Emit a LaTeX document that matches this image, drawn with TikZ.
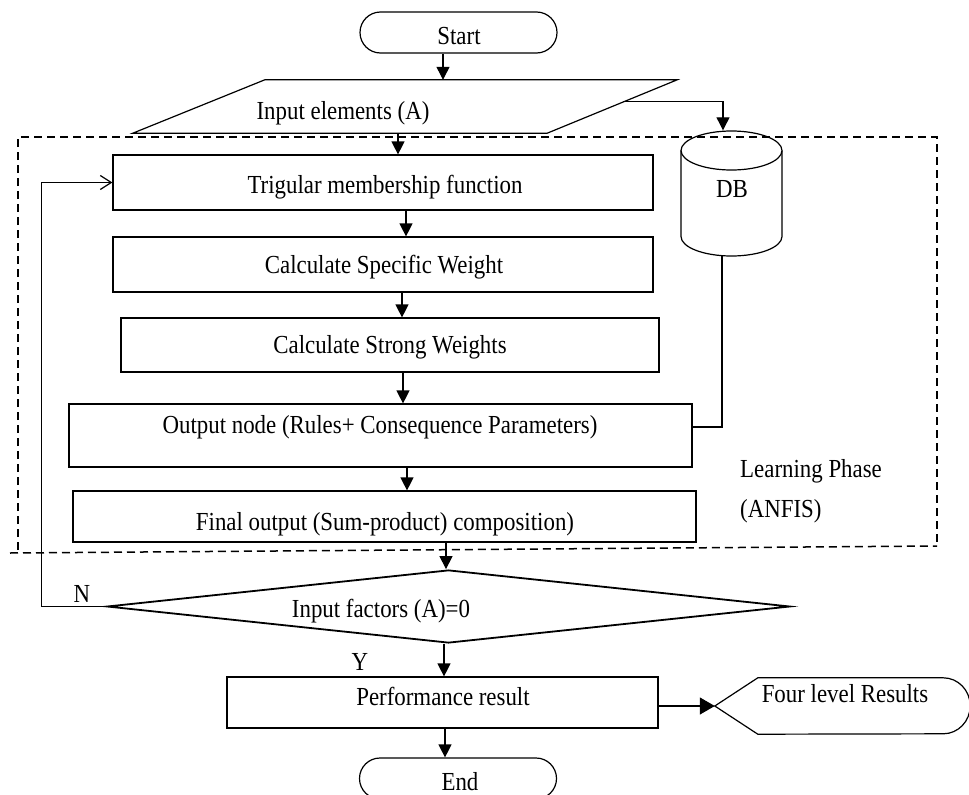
\documentclass[tikz,border=0pt]{standalone}
\usepackage{fontspec}
\setmainfont[FakeStretch=0.88]{Liberation Serif}
\usetikzlibrary{shapes.geometric,shapes.misc,arrows.meta}
\begin{document}
\begin{tikzpicture}[x=1pt,y=-1pt,
  ln/.style={line width=1.2pt},
  box/.style={draw, line width=1.2pt, inner sep=0pt},
  ghost/.style={inner sep=0pt},
  term/.style={draw, rounded rectangle, line width=1.2pt, inner sep=0pt, minimum width=197pt, minimum height=41pt},
  txt/.style={inner sep=0pt, anchor=base, font=\fontsize{26}{30}\selectfont},
  txtl/.style={inner sep=0pt, anchor=base west, font=\fontsize{26}{30}\selectfont},
  arr/.style={line width=1.2pt, -{Triangle[width=13pt,length=13pt]}},
  bigarr/.style={line width=1.2pt, -{Triangle[width=17pt,length=15pt]}},
  openarr/.style={line width=1.2pt, -{Straight Barb[length=11pt,width=14pt]}},
  phase/.style={line width=1.5pt, dash pattern=on 8pt off 5pt}
]
\path[use as bounding box, clip] (0,0) rectangle (969,795);

% Start
\node[term] (start) at (458.5,32.5) {};
\node[txt] (startt) at (459,44) {Start};

% Input parallelogram
\node[ghost, minimum width=544pt, minimum height=53pt] (inp) at (405,106.5) {};
\draw[ln] (inp.south west) -- ([xshift=-130pt]inp.south east) -- (inp.north east) -- ([xshift=132pt]inp.north west) -- cycle;
\node[txt] (inpt) at (343,119) {Input elements (A)};

% DB cylinder
\node[ghost, minimum width=101pt, minimum height=125.5pt] (db) at (731.5,193.25) {};
\draw[ln] (681,150.5) -- (681,236.5) arc[start angle=180, end angle=360, x radius=50.5pt, y radius=19.5pt] -- (782,150.5);
\draw[ln] (731.5,150.5) ellipse[x radius=50.5pt, y radius=19.5pt];
\node[txt] (dbt) at (732,197) {DB};

% Learning phase dashed region
\draw[phase] (18,550) -- (18,137) -- (937,137) -- (937,546);
\draw[phase] (10,553) -- (937,546);
\node[txtl] (lp1) at (740,477) {Learning Phase};
\node[txtl] (lp2) at (740,517) {(ANFIS)};

% Process boxes
\node[box, minimum width=540pt, minimum height=55pt] (b1) at (383,182.5) {};
\node[txt] (t1) at (385,193) {Trigular membership function};
\node[box, minimum width=540pt, minimum height=55pt] (b2) at (383,264.5) {};
\node[txt] (t2) at (384,273) {Calculate Specific Weight};
\node[box, minimum width=538pt, minimum height=54pt] (b3) at (390,345) {};
\node[txt] (t3) at (390,353) {Calculate Strong Weights};
\node[box, minimum width=623pt, minimum height=63pt] (b4) at (380.5,435.5) {};
\node[txt] (t4) at (380,433) {Output node (Rules+ Consequence Parameters)};
\node[box, minimum width=623pt, minimum height=51pt] (b5) at (384.5,516.5) {};
\node[txt] (t5) at (385,530) {Final output (Sum-product) composition)};

% Decision
\node[draw, diamond, line width=1.8pt, inner sep=0pt, minimum width=683pt, minimum height=73pt] (dia) at (448.5,606.5) {};
\node[txt] (diat) at (381,617) {Input factors (A)=0};
\node[txt] (nl) at (82,602) {N};
\node[txt] (yl) at (360,670) {Y};

% Performance and results
\node[box, minimum width=431pt, minimum height=51pt] (b6) at (442.5,702.5) {};
\node[txt] (t6) at (443,705) {Performance result};
\node[ghost, minimum width=254pt, minimum height=56pt] (four) at (842,706) {};
\draw[ln] (four.west) -- ([xshift=43pt]four.north west) -- ([xshift=-26pt]four.north east)
  arc[start angle=90, end angle=-90, x radius=27pt, y radius=28pt] -- ([xshift=43pt]four.south west) -- cycle;
\node[txt] (fourt) at (845,702) {Four level Results};

% End
\node[term] (end) at (458,778.5) {};
\node[txt] (endt) at (460,790) {End};

% Connectors
\draw[arr] ([xshift=-15.5pt]start.south) -- ([xshift=-15.5pt]start.south |- inp.north);
\draw[arr] ([xshift=-54pt,yshift=-22pt]inp.north east) -| ([xshift=-8.5pt]db.north);
\draw[arr] ([xshift=-7pt]inp.south) -- ([xshift=-7pt]inp.south |- b1.north);
\draw[arr] ([xshift=23pt]b1.south) -- ([xshift=23pt]b1.south |- b2.north);
\draw[arr] ([xshift=19pt]b2.south) -- ([xshift=19pt]b2.south |- b3.north);
\draw[arr] ([xshift=13pt]b3.south) -- ([xshift=13pt]b3.south |- b4.north);
\draw[arr] ([xshift=26.5pt]b4.south) -- ([xshift=26.5pt]b4.south |- b5.north);
\draw[ln] ([xshift=-9.5pt]db.south) |- ([yshift=8.5pt]b4.east);
\draw[arr] ([xshift=61.5pt]b5.south) -- ([xshift=61.5pt]b5.south |- dia.north);
\draw[openarr] (dia.west) -- ++(-65,0) |- (b1.west);
\draw[arr] ([xshift=1.5pt]b6.north |- dia.south) -- ([xshift=1.5pt]b6.north);
\draw[arr] ([xshift=2.5pt]b6.south) -- ([xshift=2.5pt]b6.south |- end.north);
\draw[bigarr] (b6.east |- four.west) -- (four.west);
\end{tikzpicture}
\end{document}
